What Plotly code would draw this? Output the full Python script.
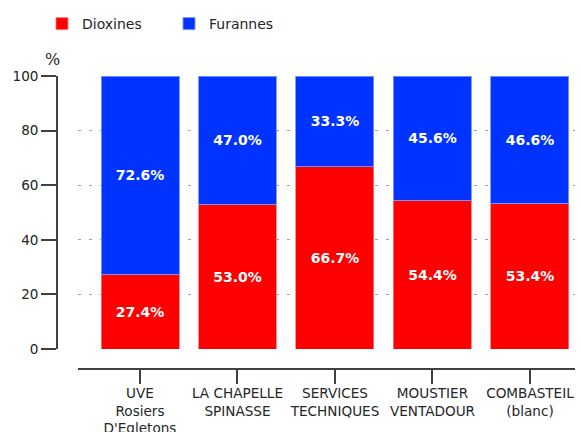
import plotly.graph_objects as go

sites = ['UVE<br>Rosiers<br>D\'Egletons', 'LA CHAPELLE<br>SPINASSE',
         'SERVICES<br>TECHNIQUES', 'MOUSTIER<br>VENTADOUR', 'COMBASTEIL<br>(blanc)']
dioxines = [27.4, 53.0, 66.7, 54.4, 53.4]
furannes = [72.6, 47.0, 33.3, 45.6, 46.6]
y_ticks = [0, 20, 40, 60, 80, 100]

# the page body adds an 8px margin, so the figure is sized to fit what's left
W, H = 575, 424
font = 'DejaVu Sans, sans-serif'
dark = '#262626'
axis_col = '#404040'

fig = go.Figure()
for name, vals, col, edge in [('Dioxines', dioxines, '#ff0000', 'rgba(255,120,120,0.8)'),
                              ('Furannes', furannes, '#0033ff', 'rgba(120,150,255,0.9)')]:
    fig.add_trace(go.Bar(
        x=list(range(len(sites))), y=vals, name=name,
        marker=dict(color=col, line=dict(color=edge, width=1)),
        texttemplate='%{y:.1f}%', textposition='inside',
        insidetextanchor='middle',
        textfont=dict(family=font, size=14, color='white', weight='bold'),
    ))

fig.update_layout(
    width=W, height=H,
    barmode='stack', bargap=0.2,
    plot_bgcolor='white', paper_bgcolor='white',
    margin=dict(l=0, r=0, t=0, b=0),
    font=dict(family=font, size=14, color=dark),
    showlegend=True,
    legend=dict(orientation='h', x=34 / W, y=1.0, xanchor='left', yanchor='top',
                font=dict(size=14), traceorder='normal', itemwidth=30,
                entrywidth=82, entrywidthmode='pixels'),
    uniformtext=dict(mode=False),
)

fig.update_xaxes(
    domain=[70 / W, 1], anchor='free', position=(H - 361) / H,
    range=[-0.636, 4.544], tickmode='array',
    tickvals=list(range(len(sites))), ticktext=sites,
    showline=True, linecolor=axis_col, linewidth=1.5,
    ticks='outside', ticklen=14, tickwidth=1.5, tickcolor=axis_col,
    ticklabelstandoff=-2,
    showgrid=False, zeroline=False, automargin=False,
    tickfont=dict(size=13.6, color=dark),
)
fig.update_yaxes(
    domain=[(H - 341) / H, (H - 68) / H], anchor='free', position=49 / W,
    range=[0, 100], tickvals=y_ticks,
    showline=True, linecolor=axis_col, linewidth=1.5,
    ticks='outside', ticklen=15, tickwidth=1.5, tickcolor=axis_col,
    showgrid=True, gridcolor='#a0a0a0', gridwidth=1, griddash='3px,8px',
    zeroline=False, automargin=False,
    tickfont=dict(size=13.6, color=dark),
)

fig.add_annotation(text='%', xref='paper', yref='paper', xanchor='center', yanchor='middle',
                   x=44 / W, y=(H - 52) / H, showarrow=False,
                   font=dict(family='DejaVu Serif, serif', size=16, color=dark))

fig.write_html('out.html')
